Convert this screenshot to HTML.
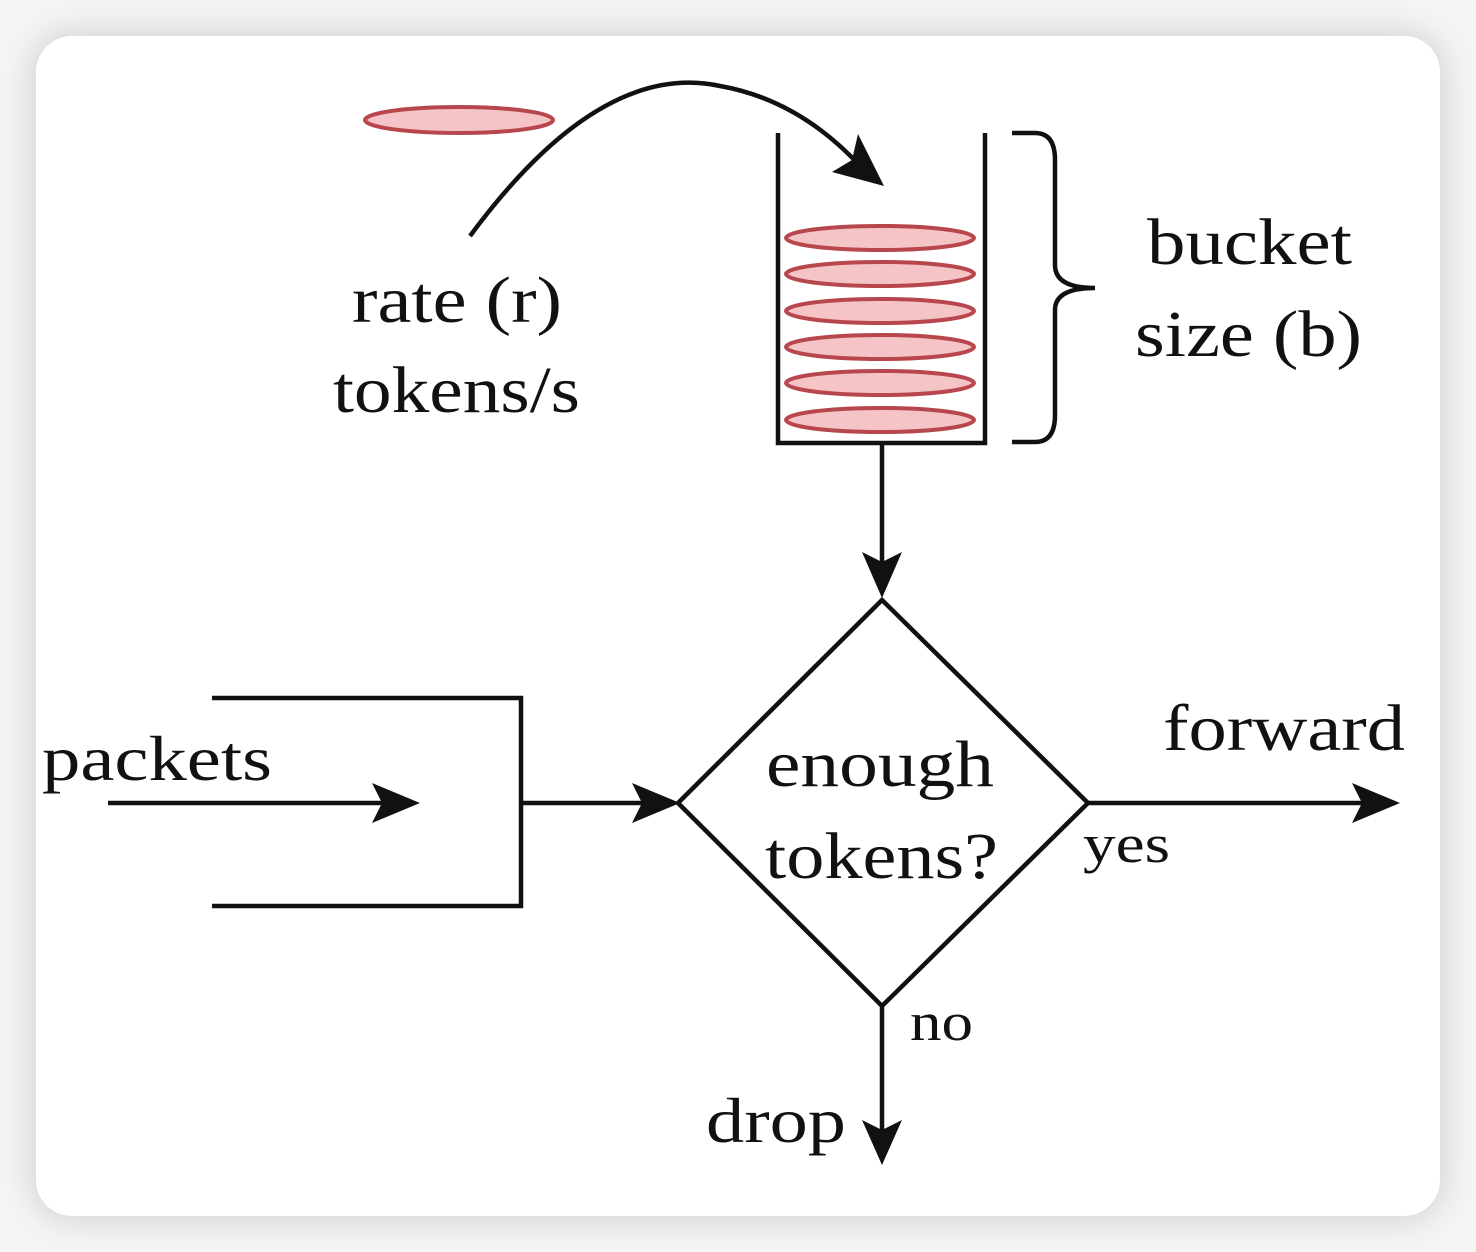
<!DOCTYPE html>
<html><head><style>
html,body{margin:0;padding:0;background:#fff;}
body{width:1476px;height:1252px;position:relative;overflow:hidden;background:#f4f4f4;}
.card{position:absolute;left:36px;top:36px;width:1404px;height:1180px;background:#fff;border-radius:36px;box-shadow:0 0 30px 6px rgba(0,0,0,0.12);}
svg{position:absolute;left:0;top:0;}
text{font-family:"Liberation Serif",serif;fill:#111;}
</style></head><body>
<div class="card"></div>
<svg width="1476" height="1252" viewBox="0 0 1476 1252">
<g fill="#f4c4c6" stroke="#b8474d" stroke-width="4">
<ellipse cx="459" cy="120" rx="94" ry="13"/>
<ellipse cx="880" cy="238" rx="94" ry="12"/>
<ellipse cx="880" cy="274" rx="94" ry="12"/>
<ellipse cx="880" cy="311" rx="94" ry="12"/>
<ellipse cx="880" cy="347" rx="94" ry="12"/>
<ellipse cx="880" cy="383" rx="94" ry="12"/>
<ellipse cx="880" cy="420" rx="94" ry="12"/>
</g>
<g fill="none" stroke="#111" stroke-width="4.5">
<path d="M778 133 V443 H985 V133"/>
<path d="M1012 133 H1035 Q1055 133 1055 160 V265 Q1055 288 1095 288 Q1055 288 1055 310 V415 Q1055 442 1035 442 H1012"/>
<path d="M470 236 Q600 60 720 86 Q800 100 862 168"/>
<path d="M882 445 V580"/>
<path d="M882 600 L1088 803 L882 1006 L678 803 Z"/>
<path d="M1088 803 H1380"/>
<path d="M882 1006 V1145"/>
<path d="M212 698 H521 V906 H212"/>
<path d="M108 803 H400"/>
<path d="M521 803 H660"/>
</g>
<g fill="#111">
<path d="M884 186 L832 172 L852 160 L858 134 Z"/>
<path d="M882 598 L862 552 L882 562 L902 552 Z"/>
<path d="M1400 803 L1352 783 L1362 803 L1352 823 Z"/>
<path d="M882 1165 L862 1120 L882 1130 L902 1120 Z"/>
<path d="M420 803 L372 783 L382 803 L372 823 Z"/>
<path d="M680 803 L632 783 L642 803 L632 823 Z"/>
</g>
<text x="352" y="322" font-size="66" textLength="210" lengthAdjust="spacingAndGlyphs">rate (r)</text>
<text x="333" y="412" font-size="66" textLength="247" lengthAdjust="spacingAndGlyphs">tokens/s</text>
<text x="1147" y="264" font-size="66" textLength="205" lengthAdjust="spacingAndGlyphs">bucket</text>
<text x="1135" y="356" font-size="66" textLength="227" lengthAdjust="spacingAndGlyphs">size (b)</text>
<text x="766" y="786" font-size="66" textLength="228" lengthAdjust="spacingAndGlyphs">enough</text>
<text x="765" y="878" font-size="66" textLength="233" lengthAdjust="spacingAndGlyphs">tokens?</text>
<text x="42" y="780" font-size="64" textLength="230" lengthAdjust="spacingAndGlyphs">packets</text>
<text x="1163" y="750" font-size="66" textLength="242" lengthAdjust="spacingAndGlyphs">forward</text>
<text x="1083" y="862" font-size="54" textLength="87" lengthAdjust="spacingAndGlyphs">yes</text>
<text x="910" y="1040" font-size="54" textLength="63" lengthAdjust="spacingAndGlyphs">no</text>
<text x="706" y="1142" font-size="64" textLength="140" lengthAdjust="spacingAndGlyphs">drop</text>
</svg>
</body></html>
